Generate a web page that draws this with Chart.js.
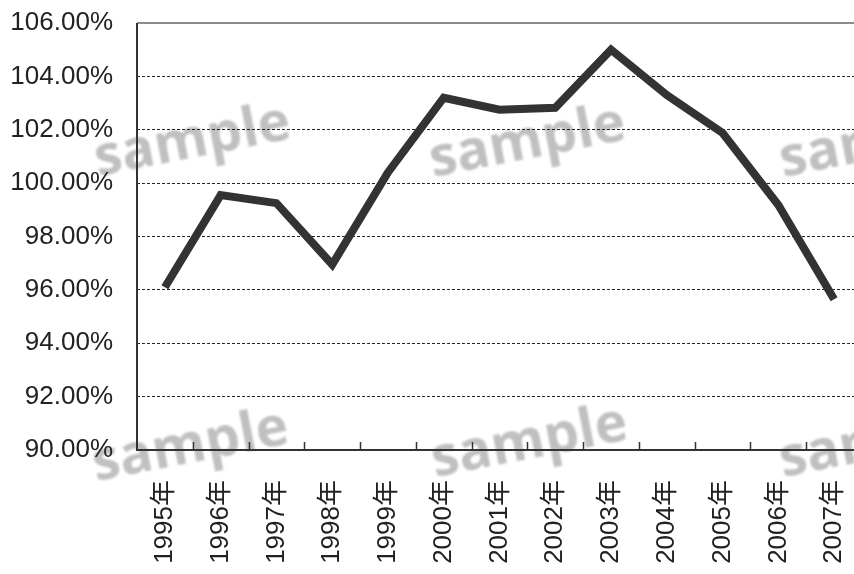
<!DOCTYPE html>
<html>
<head>
<meta charset="utf-8">
<script src="https://cdn.jsdelivr.net/npm/chart.js@4.4.1/dist/chart.umd.min.js"></script>
<style>
  html, body { margin: 0; padding: 0; background: #fff; overflow: hidden; }
  #wrap { width: 862px; height: 574px; }
</style>
</head>
<body>
<div id="wrap"><canvas id="c" width="862" height="574"></canvas></div>
<script>
// Yearly index (%), 1995–2007
const years = ['1995年','1996年','1997年','1998年','1999年','2000年','2001年','2002年','2003年','2004年','2005年','2006年','2007年'];
const ratio = [96.10, 99.55, 99.25, 96.95, 100.40, 103.20, 102.75, 102.82, 105.00, 103.30, 101.88, 99.18, 95.65];
const yMin = 90, yMax = 106, yStep = 2;
const watermarkText = 'sample';

const labelFont = '"Liberation Sans", Arial, "Noto Sans CJK JP", sans-serif';

// faint "sample" stamps behind the plot
const watermark = {
  id: 'watermark',
  beforeDraw(chart) {
    const ctx = chart.ctx;
    const spots = [[98,176],[433,177],[783,177],[96,481],[435,477],[783,477]];
    ctx.save();
    ctx.fillStyle = 'rgb(192,192,192)';
    ctx.font = 'bold 55px "Open Sans", "DejaVu Sans", sans-serif';
    ctx.textAlign = 'left';
    ctx.textBaseline = 'alphabetic';
    ctx.filter = 'blur(1.2px)';
    spots.forEach(([x, y]) => {
      ctx.save();
      ctx.translate(x, y);
      ctx.rotate(-11 * Math.PI / 180);
      ctx.fillText(watermarkText, 0, 0);
      ctx.restore();
    });
    ctx.restore();
  }
};

// frame lines and inward category tick marks
const frame = {
  id: 'frame',
  beforeDatasetsDraw(chart) {
    const {ctx, chartArea: a, scales: {x}} = chart;
    ctx.save();
    ctx.setLineDash([]);
    // top edge
    ctx.strokeStyle = '#8c8c8c';
    ctx.lineWidth = 2;
    ctx.beginPath(); ctx.moveTo(a.left, a.top); ctx.lineTo(a.right, a.top); ctx.stroke();
    // left and bottom axes
    ctx.strokeStyle = '#333';
    ctx.lineWidth = 2;
    ctx.beginPath();
    ctx.moveTo(a.left, a.top); ctx.lineTo(a.left, a.bottom); ctx.lineTo(a.right, a.bottom);
    ctx.stroke();
    // tick marks between categories
    ctx.lineWidth = 1.5;
    for (let i = 1; i <= years.length; i++) {
      const px = Math.round(x.getPixelForValue(i - 0.5)) + 0.5;
      ctx.beginPath(); ctx.moveTo(px, a.bottom - 8); ctx.lineTo(px, a.bottom); ctx.stroke();
    }
    ctx.restore();
  }
};

function noEdgePadding(s) {
  s.paddingTop = 0; s.paddingBottom = 0; s.paddingLeft = 0; s.paddingRight = 0;
}

new Chart(document.getElementById('c'), {
  type: 'line',
  data: {
    labels: years,
    datasets: [{
      data: ratio,
      borderColor: '#333333',
      borderWidth: 8,
      borderCapStyle: 'butt',
      borderJoinStyle: 'miter',
      pointRadius: 0,
      tension: 0,
      fill: false
    }]
  },
  options: {
    responsive: false,
    animation: false,
    layout: { padding: { top: 23, left: 0, right: 0, bottom: 0 } },
    plugins: { legend: { display: false }, tooltip: { enabled: false } },
    scales: {
      x: {
        offset: true,
        grid: { display: false },
        border: { display: false },
        ticks: {
          minRotation: 90, maxRotation: 90, autoSkip: false,
          padding: 22,
          color: '#222',
          font: { family: labelFont, size: 26 }
        },
        afterFit(s) { s.height = 124; noEdgePadding(s); }
      },
      y: {
        min: yMin, max: yMax,
        grid: {
          color: (c) => (c.tick && (c.tick.value === yMin || c.tick.value === yMax)) ? 'rgba(0,0,0,0)' : '#222',
          lineWidth: 1,
          drawTicks: false
        },
        border: { display: false, dash: [3, 2] },
        ticks: {
          stepSize: yStep,
          padding: 24,
          color: '#222',
          font: { family: labelFont, size: 26 },
          callback: (v) => v.toFixed(2) + '%'
        },
        afterFit(s) { s.width = 137; noEdgePadding(s); }
      }
    }
  },
  plugins: [watermark, frame]
});
</script>
</body>
</html>
